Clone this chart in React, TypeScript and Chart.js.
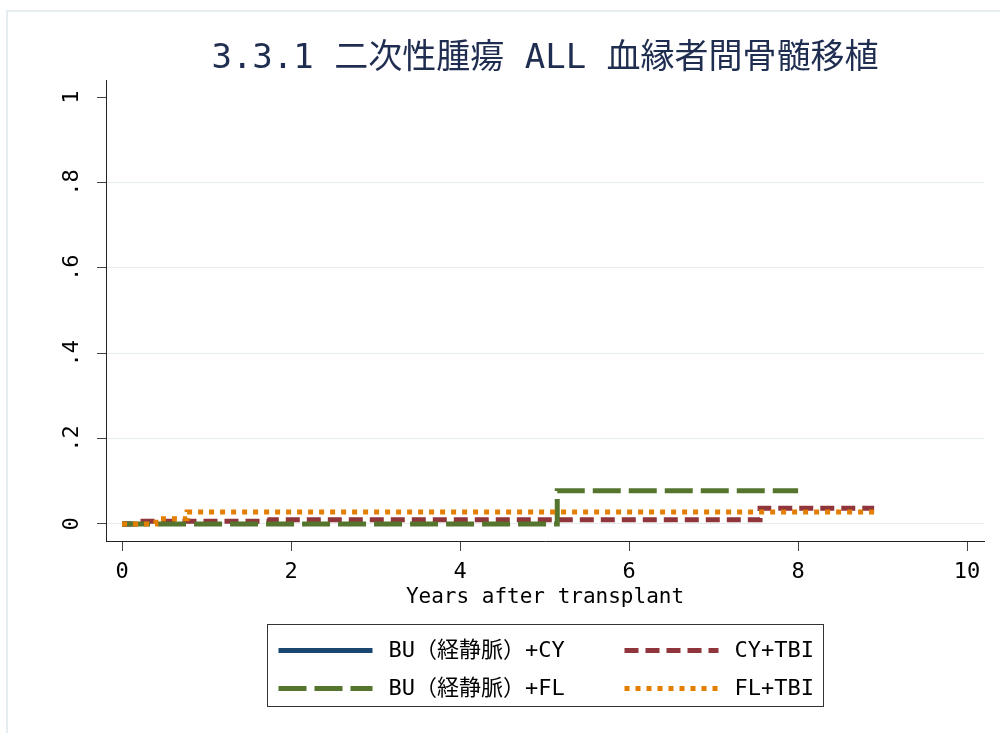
import React, { useEffect, useRef } from "react";
import { Chart, registerables } from "chart.js";

Chart.register(...registerables);

const titleText = "3.3.1 二次性腫瘍 ALL 血縁者間骨髄移植";
const xAxisTitle = "Years after transplant";
const xTicks = [0, 2, 4, 6, 8, 10];
const yTicks = [0, 0.2, 0.4, 0.6, 0.8, 1];
const yTickLabels = ["0", ".2", ".4", ".6", ".8", "1"];

const seriesLabels = ["BU（経静脈）+CY", "CY+TBI", "BU（経静脈）+FL", "FL+TBI"];

const buCyTimes = [0, 0.1];
const buCyValues = [0, 0];
const cyTbiTimes = [0, 0.15, 1.75, 7.55, 8.9];
const cyTbiValues = [0, 0.006, 0.01, 0.037, 0.037];
const buFlTimes = [0, 5.15, 8.0];
const buFlValues = [0, 0.078, 0.078];
const flTbiTimes = [0, 0.4, 0.77, 8.9];
const flTbiValues = [0, 0.012, 0.028, 0.028];

const FONT = '"DejaVu Sans Mono", "Noto Sans CJK JP", monospace';

const toPoints = (t: number[], v: number[]) => t.map((x, i) => ({ x, y: v[i] }));

const decorPlugin = {
  id: "decor",
  beforeDraw(chart: any) {
    const ctx = chart.ctx;
    ctx.save();
    ctx.fillStyle = "#ffffff";
    ctx.fillRect(0, 0, chart.width, chart.height);
    ctx.strokeStyle = "#e6edf0";
    ctx.lineWidth = 2;
    ctx.strokeRect(7, 11, chart.width + 20, chart.height + 20);
    ctx.restore();
  },
  afterDraw(chart: any) {
    const { ctx, chartArea, scales } = chart;
    ctx.save();
    const cx = (chartArea.left + chartArea.right) / 2;
    // title
    ctx.fillStyle = "#1f2d50";
    ctx.font = `34px ${FONT}`;
    ctx.textAlign = "center";
    ctx.textBaseline = "middle";
    ctx.fillText(titleText, cx, 59);
    // y tick labels (rotated)
    ctx.font = `22px ${FONT}`;
    ctx.fillStyle = "#000";
    yTicks.forEach((v, i) => {
      const y = scales.y.getPixelForValue(v);
      ctx.save();
      ctx.translate(72, y);
      ctx.rotate(-Math.PI / 2);
      ctx.fillText(yTickLabels[i], 0, 0);
      ctx.restore();
    });
    // legend
    const lw = 556;
    const lh = 82;
    const lx = Math.round(cx - lw / 2) + 0.5;
    const ly = 624.5;
    ctx.strokeStyle = "#333";
    ctx.lineWidth = 1;
    ctx.strokeRect(lx, ly, lw, lh);
    ctx.textAlign = "left";
    ctx.textBaseline = "middle";
    const dsOrder = [0, 1, 2, 3];
    dsOrder.forEach((di, k) => {
      const ds = chart.data.datasets[di];
      const row = Math.floor(k / 2);
      const col = k % 2;
      const sx = lx + 11 + col * 346;
      const sy = ly + 26 + row * 38;
      ctx.save();
      ctx.strokeStyle = ds.borderColor;
      ctx.lineWidth = ds.borderWidth;
      ctx.lineCap = "butt";
      ctx.setLineDash(ds.borderDash || []);
      ctx.beginPath();
      ctx.moveTo(sx, sy);
      ctx.lineTo(sx + 94, sy);
      ctx.stroke();
      ctx.restore();
      ctx.fillStyle = "#000";
      ctx.font = `22px ${FONT}`;
      ctx.fillText(ds.label, sx + 110, sy + 1);
    });
    ctx.restore();
  },
};

export default function App() {
  const canvasRef = useRef<HTMLCanvasElement | null>(null);

  useEffect(() => {
    if (!canvasRef.current) return;
    const chart = new Chart(canvasRef.current, {
      type: "line",
      data: {
        datasets: [
          {
            label: seriesLabels[0],
            data: toPoints(buCyTimes, buCyValues),
            borderColor: "#1a476f",
            borderWidth: 5,
            borderDash: [],
            stepped: "before",
            pointRadius: 0,
            fill: false,
            order: 4,
          },
          {
            label: seriesLabels[1],
            data: toPoints(cyTbiTimes, cyTbiValues),
            borderColor: "#90353b",
            borderWidth: 5,
            borderDash: [14, 7],
            stepped: "before",
            pointRadius: 0,
            fill: false,
            order: 3,
          },
          {
            label: seriesLabels[2],
            data: toPoints(buFlTimes, buFlValues),
            borderColor: "#55752f",
            borderWidth: 5,
            borderDash: [28, 8],
            stepped: "before",
            pointRadius: 0,
            fill: false,
            order: 2,
          },
          {
            label: seriesLabels[3],
            data: toPoints(flTbiTimes, flTbiValues),
            borderColor: "#e37e00",
            borderWidth: 5,
            borderDash: [5, 6],
            stepped: "before",
            pointRadius: 0,
            fill: false,
            order: 1,
          },
        ] as any,
      },
      options: {
        responsive: false,
        animation: false,
        layout: { padding: { left: 0, right: 16, top: 80, bottom: 123 } },
        plugins: {
          legend: { display: false },
          title: { display: false },
          tooltip: { enabled: false },
        },
        scales: {
          x: {
            type: "linear",
            min: -0.19,
            max: 10.2,
            afterBuildTicks: (a: any) => {
              a.ticks = xTicks.map((v) => ({ value: v }));
            },
            afterFit: (a: any) => {
              a.height = 69;
            },
            grid: { drawOnChartArea: false, drawTicks: true, tickLength: 10, tickColor: "#444" },
            border: { display: true, color: "#222", width: 1 },
            ticks: {
              font: { family: FONT, size: 22 },
              color: "#000",
              padding: 8,
              maxRotation: 0,
              autoSkip: false,
              callback: (v: any) => String(v),
            },
            title: {
              display: true,
              text: xAxisTitle,
              font: { family: FONT, size: 21 },
              color: "#000",
              padding: { top: 0, bottom: 0 },
            },
          },
          y: {
            type: "linear",
            min: -0.04,
            max: 1.04,
            afterBuildTicks: (a: any) => {
              a.ticks = yTicks.map((v) => ({ value: v }));
            },
            afterFit: (a: any) => {
              a.width = 106;
            },
            grid: {
              color: (c: any) => (c.tick && c.tick.value === 1 ? "rgba(0,0,0,0)" : "#e4ecef"),
              tickColor: "#444",
              tickLength: 9,
              lineWidth: 1,
            },
            border: { display: true, color: "#222", width: 1 },
            ticks: { display: false },
          },
        },
      } as any,
      plugins: [decorPlugin],
    });
    return () => chart.destroy();
  }, []);

  return (
    <div style={{ position: "fixed", left: 0, top: 0, width: 1000, height: 733, background: "#fff" }}>
      <canvas ref={canvasRef} width={1000} height={733} style={{ display: "block" }} />
    </div>
  );
}
